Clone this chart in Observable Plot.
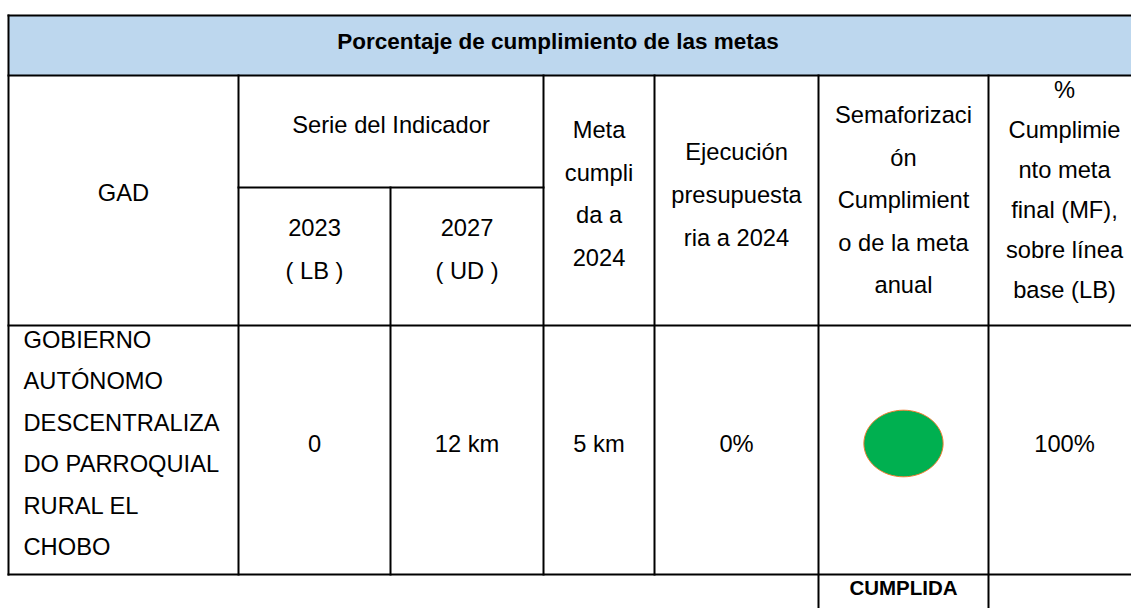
<!DOCTYPE html>
<html><head><meta charset="utf-8">
<script src="https://cdn.jsdelivr.net/npm/d3@7"></script>
<script src="https://cdn.jsdelivr.net/npm/@observablehq/plot@0.6"></script>
<style>html,body{margin:0;padding:0;background:#fff;} svg{display:block;}</style>
</head><body><div id="chart"></div>
<script>
// ---------- DATA ----------
const title = "Porcentaje de cumplimiento de las metas";
const headerLabels = [
  ["GAD"],
  ["Serie del Indicador"],
  ["Meta", "cumpli", "da a", "2024"],
  ["Ejecución", "presupuesta", "ria a 2024"],
  ["Semaforizaci", "ón", "Cumplimient", "o de la meta", "anual"],
  ["%", "Cumplimie", "nto meta", "final (MF),", "sobre línea", "base (LB)"]
];
const seriesYears = ["2023", "2027"];
const seriesCodes = ["( LB )", "( UD )"];
const gadName = ["GOBIERNO", "AUTÓNOMO", "DESCENTRALIZA", "DO PARROQUIAL", "RURAL EL", "CHOBO"];
const seriesValues = ["0", "12 km"];
const metaCumplida = "5 km";
const ejecucion = "0%";
const semaforo = "CUMPLIDA";
const cumplimientoMF = "100%";

// ---------- LAYOUT (styling only) ----------
const W = 1131, H = 608;
const colEdges = [8, 238, 390, 543, 654, 818, 988, 1140];
const rowEdges = [15, 75, 187, 325, 574];
const bottomExt = 620;
const font = "'Liberation Sans', Arial, sans-serif";
const bodySize = 23.7;
const mid = (a, b) => (a + b) / 2;

const lines = [
  {x1: colEdges[0], x2: colEdges[7], y1: rowEdges[0], y2: rowEdges[0]},
  {x1: colEdges[0], x2: colEdges[7], y1: rowEdges[1], y2: rowEdges[1]},
  {x1: colEdges[1], x2: colEdges[3], y1: rowEdges[2], y2: rowEdges[2]},
  {x1: colEdges[0], x2: colEdges[7], y1: rowEdges[3], y2: rowEdges[3]},
  {x1: colEdges[0], x2: colEdges[7], y1: rowEdges[4], y2: rowEdges[4]},
  {x1: colEdges[0], x2: colEdges[0], y1: rowEdges[0], y2: rowEdges[4]},
  {x1: colEdges[1], x2: colEdges[1], y1: rowEdges[1], y2: rowEdges[4]},
  {x1: colEdges[2], x2: colEdges[2], y1: rowEdges[2], y2: rowEdges[4]},
  {x1: colEdges[3], x2: colEdges[3], y1: rowEdges[1], y2: rowEdges[4]},
  {x1: colEdges[4], x2: colEdges[4], y1: rowEdges[1], y2: rowEdges[4]},
  {x1: colEdges[5], x2: colEdges[5], y1: rowEdges[1], y2: bottomExt},
  {x1: colEdges[6], x2: colEdges[6], y1: rowEdges[1], y2: bottomExt},
  {x1: colEdges[7], x2: colEdges[7], y1: rowEdges[0], y2: rowEdges[4]}
];

const texts = [];
function block(x, yc, arr, lh, anchor = "middle") {
  arr.forEach((t, i) => texts.push({x, y: yc + (i - (arr.length - 1) / 2) * lh, text: t, anchor}));
}
const hdrCenters = [
  [mid(colEdges[0], colEdges[1]), 193, 0],
  [mid(colEdges[1], colEdges[3]), 125, 0],
  [mid(colEdges[3], colEdges[4]), 194, 42.5],
  [mid(colEdges[4], colEdges[5]), 195, 43],
  [mid(colEdges[5], colEdges[6]), 200, 42.5],
  [1064, 190, 40]
];
headerLabels.forEach((lab, i) => block(hdrCenters[i][0], hdrCenters[i][1], lab, hdrCenters[i][2]));
seriesYears.forEach((yr, i) => block(mid(colEdges[1 + i], colEdges[2 + i]), 249.5, [yr, seriesCodes[i]], 43));
block(23, 443.5, gadName, 41.4, "start");
const rowY = 443.5;
seriesValues.forEach((v, i) => block(mid(colEdges[1 + i], colEdges[2 + i]), rowY, [v], 0));
block(mid(colEdges[3], colEdges[4]), rowY, [metaCumplida], 0);
block(mid(colEdges[4], colEdges[5]), rowY, [ejecucion], 0);
block(1064, rowY, [cumplimientoMF], 0);

const ellipseSymbol = {
  draw(ctx, size) {
    const r = Math.sqrt(size / Math.PI);
    const rx = r * 1.19, ry = r, k = 0.5523;
    ctx.moveTo(rx, 0);
    ctx.bezierCurveTo(rx, ry * k, rx * k, ry, 0, ry);
    ctx.bezierCurveTo(-rx * k, ry, -rx, ry * k, -rx, 0);
    ctx.bezierCurveTo(-rx, -ry * k, -rx * k, -ry, 0, -ry);
    ctx.bezierCurveTo(rx * k, -ry, rx, -ry * k, rx, 0);
    ctx.closePath();
  }
};
const statusColor = {CUMPLIDA: "#00b050"};
const semCenter = mid(colEdges[5], colEdges[6]);

const chart = Plot.plot({
  width: W, height: H, margin: 0,
  x: {type: "linear", domain: [0, W], axis: null},
  y: {type: "linear", domain: [0, H], reverse: true, axis: null},
  style: {fontFamily: font, background: "#fff"},
  marks: [
    Plot.rect([{x1: colEdges[0], x2: colEdges[7], y1: rowEdges[0], y2: rowEdges[1]}],
      {x1: "x1", x2: "x2", y1: "y1", y2: "y2", fill: "#bdd7ee"}),
    Plot.link(lines, {x1: "x1", x2: "x2", y1: "y1", y2: "y2", stroke: "#000", strokeWidth: 2, strokeLinecap: "square"}),
    Plot.text([title], {x: () => 557.5, y: () => 41, text: d => d, fontSize: 22.5, fontWeight: "bold", fill: "#000", fontFamily: font}),
    Plot.text(texts.filter(d => d.anchor === "middle"), {x: "x", y: "y", text: "text", fontSize: bodySize, fill: "#000", textAnchor: "middle", fontFamily: font}),
    Plot.text(texts.filter(d => d.anchor === "start"), {x: "x", y: "y", text: "text", fontSize: bodySize, fill: "#000", textAnchor: "start", fontFamily: font}),
    Plot.dot([semaforo], {x: () => semCenter, y: () => 443, r: 33.3, symbol: ellipseSymbol, fill: d => statusColor[d], stroke: "#ed7d31", strokeWidth: 1}),
    Plot.text([semaforo], {x: () => semCenter, y: () => 588, text: d => d, fontSize: 20.5, fontWeight: "bold", fill: "#000", fontFamily: font})
  ]
});
document.getElementById("chart").appendChild(chart);
</script></body></html>
